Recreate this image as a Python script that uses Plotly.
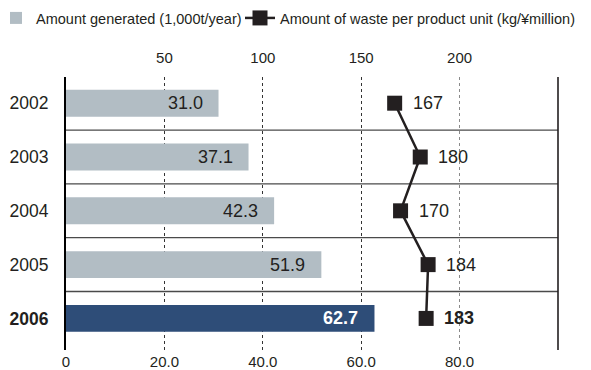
import plotly.graph_objects as go

years = ["2002", "2003", "2004", "2005", "2006"]
amount_generated = [31.0, 37.1, 42.3, 51.9, 62.7]
waste_per_unit = [167, 180, 170, 184, 183]
bar_colors = ["#b2bdc4", "#b2bdc4", "#b2bdc4", "#b2bdc4", "#2e4d78"]
bottom_ticks = [0, 20, 40, 60, 80]
bottom_ticktext = ["0", "20.0", "40.0", "60.0", "80.0"]
top_ticks = [50, 100, 150, 200]
legend_names = ["Amount generated (1,000t/year)", "Amount of waste per product unit (kg/¥million)"]

FONT = "Liberation Sans, Arial, sans-serif"
INK = "#231f20"
W, H = 591, 370
ML, MR, MT, MB = 66, 33, 77, 20
PW = W - ML - MR

fig = go.Figure()
fig.add_trace(go.Bar(
    y=years, x=amount_generated, orientation="h",
    marker=dict(color=bar_colors, line=dict(width=0)),
    width=0.5, name=legend_names[0], xaxis="x", yaxis="y", legend="legend",
))
fig.add_trace(go.Scatter(
    y=years, x=waste_per_unit, mode="lines+markers",
    line=dict(color=INK, width=2.5),
    marker=dict(symbol="square", size=15, color=INK),
    name=legend_names[1], xaxis="x2", yaxis="y", legend="legend2",
))

annotations = []
last = len(years) - 1
for i, v in enumerate(amount_generated):
    bold = i == last
    annotations.append(dict(
        x=v, y=i, xref="x", yref="y", xanchor="right", yanchor="middle",
        xshift=-14, showarrow=False,
        text=(f"<b>{v:.1f}</b>" if bold else f"{v:.1f}"),
        font=dict(family=FONT, size=18, color="white" if bold else INK),
    ))
for i, v in enumerate(waste_per_unit):
    bold = i == last
    annotations.append(dict(
        x=v, y=i, xref="x2", yref="y", xanchor="left", yanchor="middle",
        xshift=16, showarrow=False,
        text=(f"<b>{v}</b>" if bold else f"{v}"),
        font=dict(family=FONT, size=18, color=INK),
    ))

shapes = []
for k in range(len(years) - 1):
    shapes.append(dict(type="line", xref="paper", x0=0, x1=1, yref="y",
                       y0=k + 0.5, y1=k + 0.5,
                       line=dict(color="#4a4a4a", width=1.3), layer="below"))
shapes.append(dict(type="line", xref="paper", x0=1, x1=1, yref="paper", y0=0, y1=1,
                   line=dict(color=INK, width=1.6)))

ytick_text = [f"<b>{y}</b>" if i == last else y for i, y in enumerate(years)]

legend_common = dict(orientation="h", xref="paper", yref="container", y=1.0 - 2 / H,
                     yanchor="top", xanchor="left",
                     font=dict(size=14.5, family=FONT, color=INK),
                     bgcolor="rgba(0,0,0,0)", itemwidth=30)

fig.update_layout(
    width=W, height=H,
    margin=dict(l=ML, r=MR, t=MT, b=MB, autoexpand=False),
    paper_bgcolor="white", plot_bgcolor="white",
    font=dict(family=FONT, color=INK),
    showlegend=True,
    legend=dict(legend_common, x=(-4 - ML) / PW),
    legend2=dict(legend_common, x=(240 - ML) / PW),
    bargap=0.5,
    xaxis=dict(range=[0, 100], tickmode="array", tickvals=bottom_ticks, ticktext=bottom_ticktext,
               showgrid=False, zeroline=False, showline=False, ticks="", automargin=False,
               tickfont=dict(size=15), ticklabelstandoff=1,
               minor=dict(tickmode="array", tickvals=[80], showgrid=True,
                          gridcolor="#8a8a8a", griddash="dot", gridwidth=1, ticks="")),
    xaxis2=dict(range=[0, 250], overlaying="x", side="top", tickmode="array",
                tickvals=top_ticks, showgrid=False, zeroline=False, showline=False, ticks="",
                automargin=False, tickfont=dict(size=15), ticklabelstandoff=10,
                minor=dict(tickmode="array", tickvals=[50, 100, 150], showgrid=True,
                           gridcolor="#333333", griddash="dot", gridwidth=1, ticks="")),
    yaxis=dict(type="category", range=[4.587, -0.487], tickmode="array",
               tickvals=years, ticktext=ytick_text, automargin=False,
               showgrid=False, zeroline=False, showline=True, linecolor="black", linewidth=2,
               ticks="", tickfont=dict(size=17.5), ticklabelstandoff=12),
    annotations=annotations,
    shapes=shapes,
)

fig.write_html("out.html")
